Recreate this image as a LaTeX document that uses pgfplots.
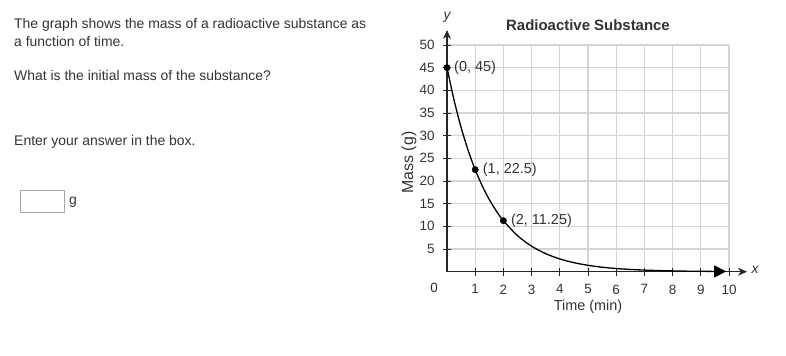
\documentclass[border=0pt]{standalone}
\usepackage{fontspec}
\setmainfont{Liberation Sans}
\usepackage{pgfplots}
\pgfplotsset{compat=1.18}
\usetikzlibrary{arrows.meta}
\definecolor{txt}{HTML}{333333}
\definecolor{gridc}{HTML}{D4D4D4}
\begin{document}
\begin{tikzpicture}[x=1bp,y=1bp]
\path[use as bounding box, fill=white] (0,0) rectangle (786,355);
\begin{scope}[every node/.style={anchor=base west, inner sep=0pt, text=txt, font=\fontsize{14}{16}\selectfont}]
\node at (14,326.7) {The graph shows the mass of a radioactive substance as};
\node at (14,308.3) {a function of time.};
\node at (14,275) {What is the initial mass of the substance?};
\node at (14,209.3) {Enter your answer in the box.};
\node at (69,151) {g};
\end{scope}
\draw[gray!70, line width=0.8bp] (20.5,143) rectangle (64,165);
\begin{axis}[
  at={(447bp,83.3bp)}, anchor=origin,
  scale only axis, width=282bp, height=226.7bp,
  xmin=0, xmax=10, ymin=0, ymax=50,
  axis lines=middle,
  axis line style={line width=1.2bp, black!85},
  x axis line style={-{Stealth[length=9bp,width=8bp]}, shorten >=-18bp},
  y axis line style={-{Stealth[length=9bp,width=8bp]}, shorten >=-15bp},
  xtick={1,...,10}, ytick={5,10,...,50},
  tick align=center, major tick length=8bp,
  tick style={black!85, line width=1bp},
  grid=major, grid style={gridc, line width=1.1bp},
  tick label style={font=\fontsize{13.5}{15}\selectfont, text=txt},
  /pgf/number format/assume math mode=true,
  xticklabel style={yshift=-5.5bp},
  yticklabel style={xshift=-5bp},
  clip=false,
]
\addplot[black, line width=1.3bp, smooth, -{Triangle[length=12bp,width=12bp]}] coordinates {
(0,45) (0.25,37.84) (0.5,31.82) (0.75,26.76) (1,22.5) (1.25,18.92) (1.5,15.91) (1.75,13.38)
(2,11.25) (2.5,7.95) (3,5.625) (3.5,3.98) (4,2.81) (4.5,1.99) (5,1.41) (5.5,0.99)
(6,0.70) (6.5,0.50) (7,0.35) (7.5,0.25) (8,0.18) (8.5,0.12) (9,0.09) (9.5,0.06) (9.9,0.05)};
\addplot[only marks, mark=*, mark size=3.2bp, black] coordinates {(0,45) (1,22.5) (2,11.25)};
\node[anchor=west, inner sep=0pt, xshift=7bp, text=txt, font=\fontsize{14.5}{16}\selectfont] at (axis cs:0,45) {(0, 45)};
\node[anchor=west, inner sep=0pt, xshift=7.5bp, text=txt, font=\fontsize{14.5}{16}\selectfont] at (axis cs:1,22.5) {(1, 22.5)};
\node[anchor=west, inner sep=0pt, xshift=7.5bp, text=txt, font=\fontsize{14.5}{16}\selectfont] at (axis cs:2,11.25) {(2, 11.25)};
\end{axis}
\node[anchor=base, inner sep=0pt, text=txt, font=\fontsize{15}{17}\selectfont\bfseries] at (588,325) {Radioactive Substance};
\node[anchor=base, inner sep=0pt, text=txt, font=\fontsize{14}{16}\selectfont\itshape] at (447,335.5) {y};
\node[inner sep=0pt, text=txt, font=\fontsize{14}{16}\selectfont\itshape] at (755,85) {x};
\node[inner sep=0pt, text=txt, font=\fontsize{13.5}{15}\selectfont] at (434,67) {0};
\node[inner sep=0pt, text=txt, rotate=90, font=\fontsize{16}{18}\selectfont] at (409,192.5) {Mass (g)};
\node[inner sep=0pt, text=txt, font=\fontsize{14.5}{16}\selectfont] at (588,48) {Time (min)};
\end{tikzpicture}
\end{document}
